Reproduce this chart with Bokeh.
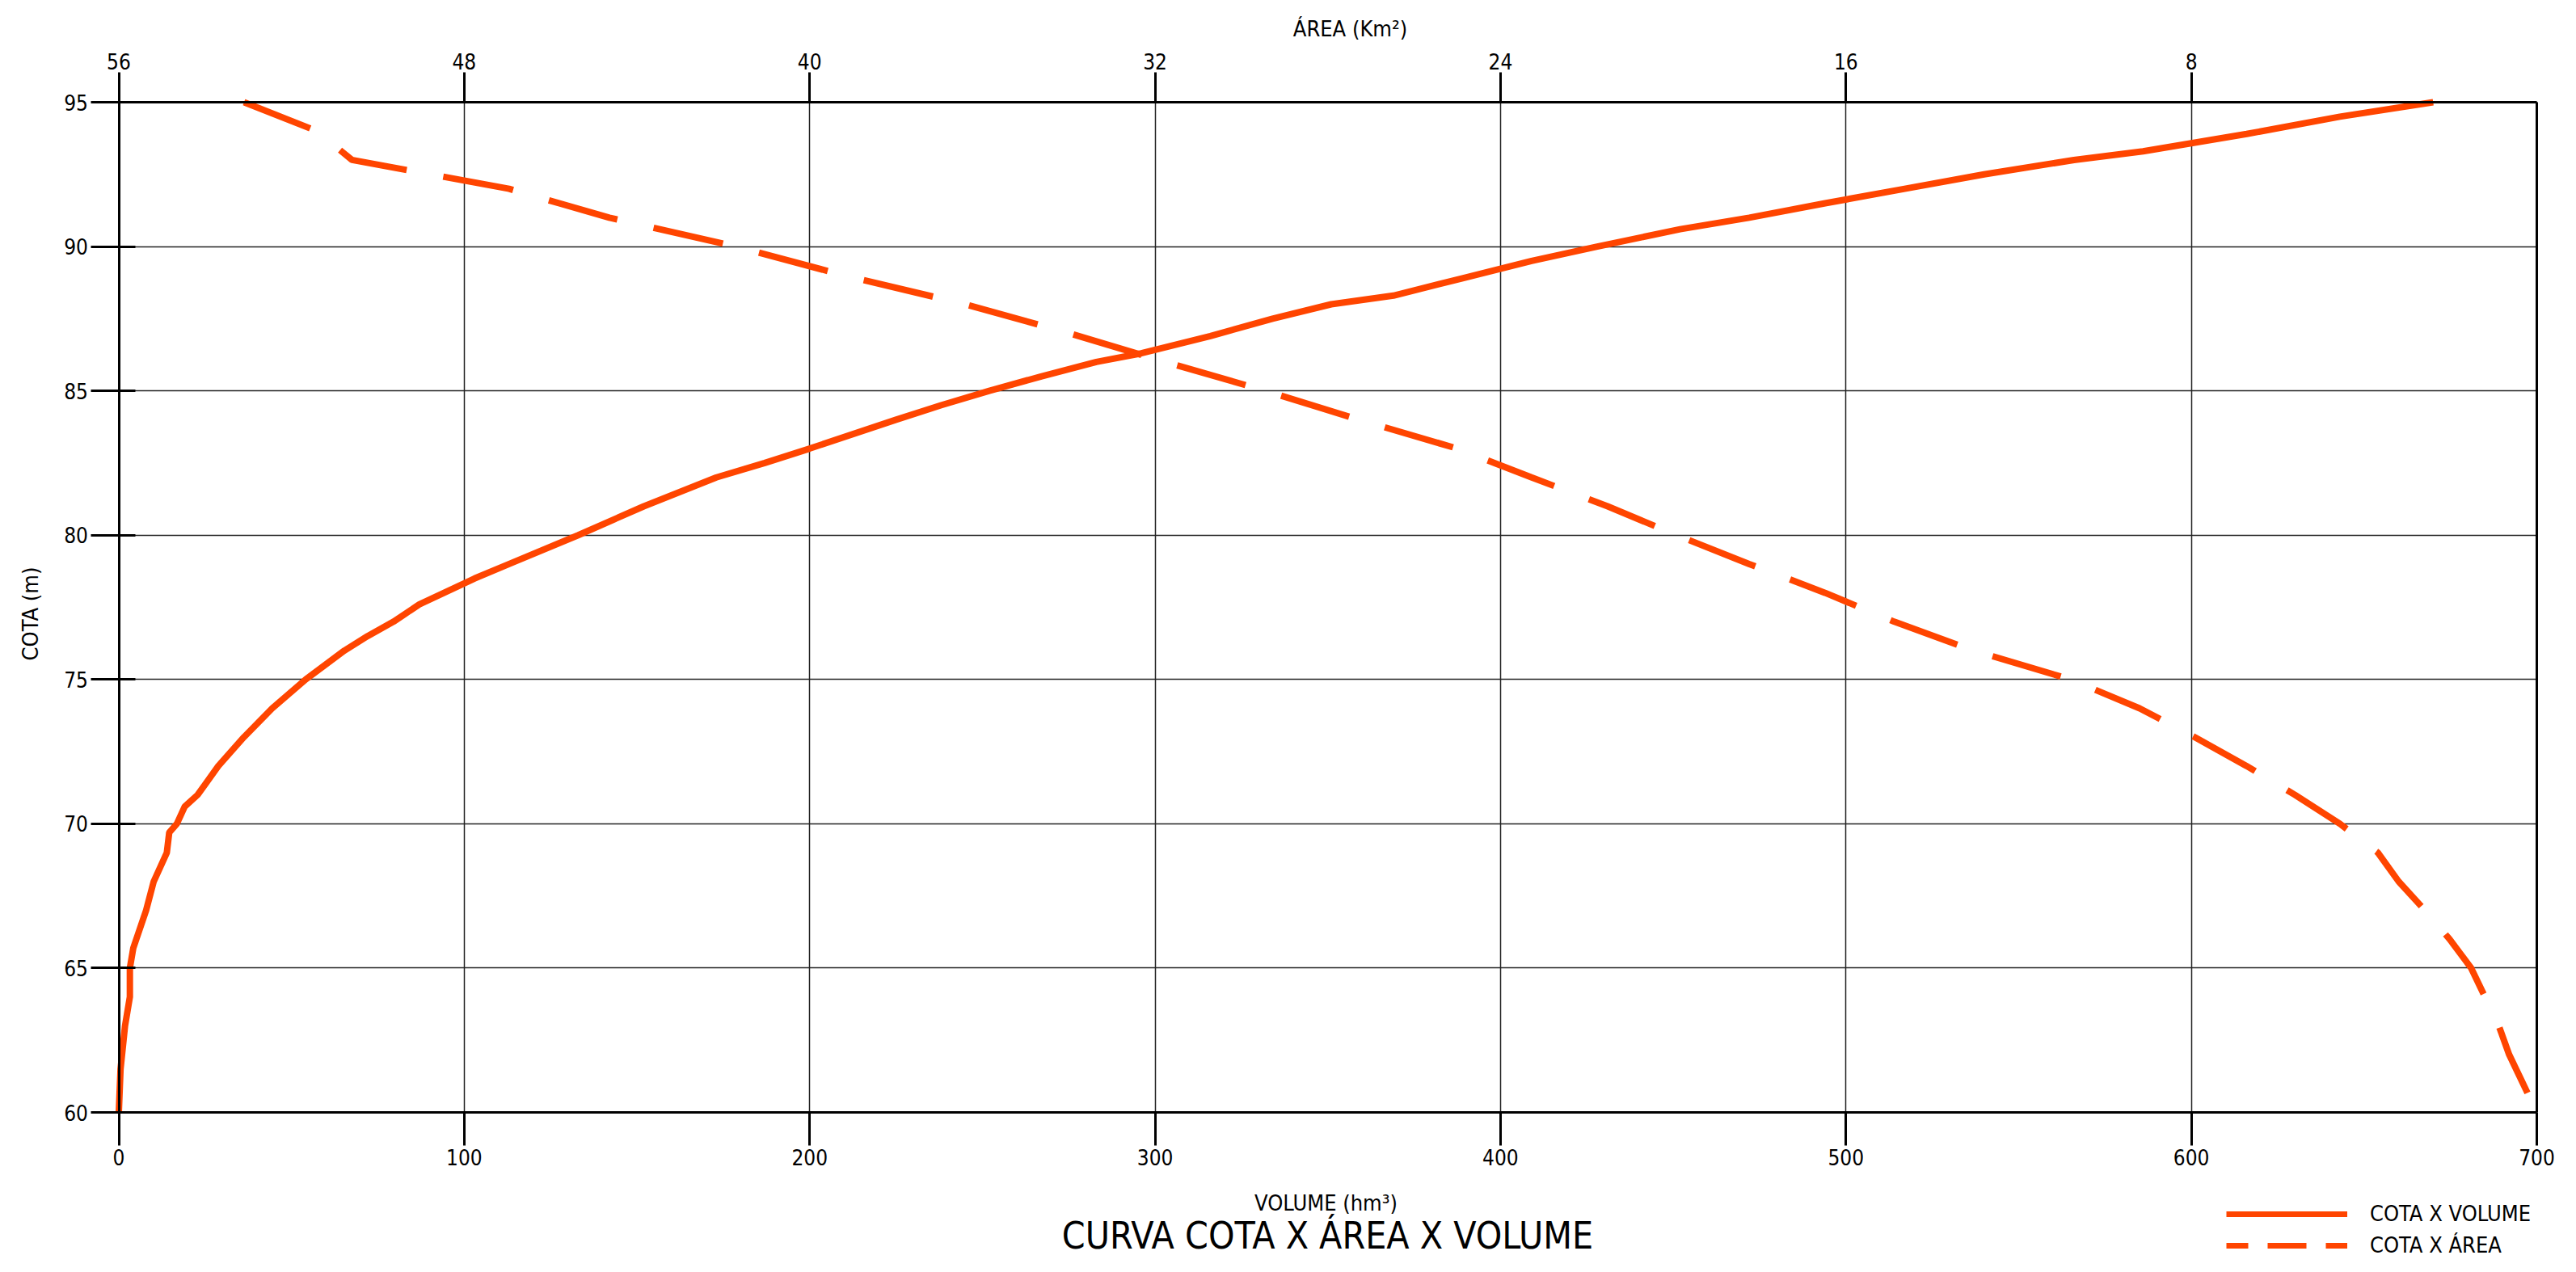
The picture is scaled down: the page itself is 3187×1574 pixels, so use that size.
import math
from bokeh.plotting import figure
from bokeh.models import Range1d, LinearAxis, FixedTicker, Legend, LegendItem, Label, Grid
from bokeh.embed import file_html
from bokeh.resources import INLINE

FONT = "Liberation Sans Narrow, DejaVu Sans Condensed, Liberation Sans"
ORANGE = "#ff4500"

# COTA x VOLUME
cota_vol = [60, 61.5, 63, 64, 65, 65.7, 67, 68, 69, 69.7, 70, 70.6, 71, 72, 73, 74, 75, 76, 76.5, 77,
            77.6, 78.5, 79, 80, 81, 82, 82.5, 83, 84, 84.5, 85, 85.5, 86, 86.3, 86.9, 87.5, 88, 88.3,
            88.9, 89.5, 90, 90.6, 91, 91.5, 92, 92.5, 93, 93.3, 93.9, 94.5, 95]
volume = [0, 0.5, 1.8, 3.2, 3.2, 4.2, 7.9, 10.1, 13.9, 14.6, 16.8, 19.1, 22.8, 28.8, 36.2, 44.4, 54.1,
          65.3, 72, 79.5, 87, 103, 113, 133, 152, 173, 187, 200, 225, 238, 252, 267, 283, 296, 316,
          334, 351, 369, 389, 409, 428, 452, 472, 494, 517, 540, 566, 586, 616, 643, 670]

# COTA x ÁREA
cota_area = [95, 94, 93, 92, 91, 90, 89, 88, 87, 86, 85, 84, 83, 82, 81, 80, 79, 78, 77, 76, 75, 74,
             73, 72, 71, 70, 69, 68, 67, 66, 65, 64, 63, 62, 61, 60]
area = [53.10, 51.41, 50.60, 46.96, 44.64, 41.71, 39.20, 36.40, 34.00, 31.76, 29.44, 27.28, 25.00,
        23.28, 21.52, 19.92, 18.24, 16.48, 14.88, 13.04, 10.80, 9.20, 7.92, 6.72, 5.60, 4.56, 3.68,
        3.20, 2.59, 2.02, 1.52, 1.20, 0.88, 0.64, 0.32, 0.00]

vol_ticks = [0, 100, 200, 300, 400, 500, 600, 700]
area_ticks = [56, 48, 40, 32, 24, 16, 8]
cota_ticks = [60, 65, 70, 75, 80, 85, 90, 95]
VOL_MIN, VOL_MAX = 0, 700
AREA_MAX, AREA_MIN = 56, 0
COTA_MIN, COTA_MAX = 60, 95

# ---- layout (figure pixels); the frame covers the whole canvas, axes are fixed ----
W, H = 3170, 1556
PL, PR, PT, PB = 146.5, 3138.0, 126.0, 1376.0    # plot box edges
px_x = (PR - PL) / (VOL_MAX - VOL_MIN)
px_y = (PB - PT) / (COTA_MAX - COTA_MIN)
x_start = VOL_MIN - PL / px_x
x_end = VOL_MAX + (W - PR) / px_x
y_end = COTA_MAX + PT / px_y
y_start = COTA_MIN - (H - PB) / px_y
a_per_v = (AREA_MAX - AREA_MIN) / (VOL_MAX - VOL_MIN)
a_start = AREA_MAX - (x_start - VOL_MIN) * a_per_v
a_end = AREA_MAX - (x_end - VOL_MIN) * a_per_v

p = figure(width=W, height=H, x_range=Range1d(x_start, x_end), y_range=Range1d(y_start, y_end),
           x_axis_location=None, y_axis_location=None,
           output_backend="svg", toolbar_location=None,
           min_border_left=0, min_border_right=0, min_border_top=0, min_border_bottom=0)
p.extra_x_ranges = {"area": Range1d(a_start, a_end)}
p.outline_line_color = None
p.background_fill_color = "white"
p.border_fill_color = "white"
# drop the default grids created by figure()
p.center = [r for r in p.center if not isinstance(r, Grid)]

GRID_COLOR = "#222222"
if "cross_bounds" in Grid.properties():
    p.add_layout(Grid(dimension=1, ticker=FixedTicker(ticks=cota_ticks), grid_line_color=GRID_COLOR,
                      grid_line_width=1.5, cross_bounds=(VOL_MIN, VOL_MAX)))
    p.add_layout(Grid(dimension=0, ticker=FixedTicker(ticks=vol_ticks), grid_line_color=GRID_COLOR,
                      grid_line_width=1.5, cross_bounds=(COTA_MIN, COTA_MAX)))
else:
    n = len(vol_ticks)
    p.segment(x0=vol_ticks, y0=[COTA_MIN] * n, x1=vol_ticks, y1=[COTA_MAX] * n,
              line_color=GRID_COLOR, line_width=1.5, level="underlay")
    m = len(cota_ticks)
    p.segment(x0=[VOL_MIN] * m, y0=cota_ticks, x1=[VOL_MAX] * m, y1=cota_ticks,
              line_color=GRID_COLOR, line_width=1.5, level="underlay")

bottom = LinearAxis(ticker=FixedTicker(ticks=vol_ticks), fixed_location=COTA_MIN,
                    bounds=(VOL_MIN, VOL_MAX))
left = LinearAxis(ticker=FixedTicker(ticks=cota_ticks), fixed_location=VOL_MIN,
                  bounds=(COTA_MIN, COTA_MAX))
top = LinearAxis(x_range_name="area", ticker=FixedTicker(ticks=area_ticks), fixed_location=COTA_MAX,
                 bounds=(AREA_MIN, AREA_MAX))
right = LinearAxis(ticker=FixedTicker(ticks=[]), fixed_location=VOL_MAX, bounds=(COTA_MIN, COTA_MAX))
p.add_layout(bottom, "below")
p.add_layout(left, "left")
p.add_layout(top, "above")
p.add_layout(right, "right")

for ax in [bottom, left, top, right]:
    ax.axis_line_color = "black"
    ax.axis_line_width = 3
    ax.major_tick_line_color = "black"
    ax.major_tick_line_width = 3
    ax.minor_tick_line_color = None
    ax.major_label_text_font = FONT
    ax.major_label_text_font_size = "26px"
    ax.major_label_text_color = "black"

bottom.major_tick_out = 41
bottom.major_tick_in = 0
bottom.major_label_standoff = 4

top.major_tick_out = 37
top.major_tick_in = 0
top.major_label_standoff = 4

left.major_tick_out = 35
left.major_tick_in = 20
left.major_label_standoff = 3

right.major_tick_out = 0
right.major_tick_in = 0


def label(text, x, y, size, angle=0.0):
    # x, y are figure pixels from the top-left corner
    return Label(x=x, y=H - y, x_units="screen", y_units="screen", text=text, angle=angle,
                 text_align="center", text_baseline="middle", text_font=FONT,
                 text_font_size=size, text_color="black")


p.add_layout(label("VOLUME (hm³)", 1640, 1488, "27px"))
p.add_layout(label("ÁREA (Km²)", 1670, 35, "27px"))
p.add_layout(label("COTA (m)", 37, 759, "27px", angle=math.pi / 2))
p.add_layout(label("CURVA COTA X ÁREA X VOLUME", 1642, 1528, "46px"))

p.line(volume, cota_vol, line_color=ORANGE, line_width=8)
p.line(area, cota_area, x_range_name="area", line_color=ORANGE, line_width=8, line_dash="88 46")

# legend proxies (kept outside the visible ranges)
r1 = p.line(x=[-1000, -999], y=[0, 0], line_color=ORANGE, line_width=7)
r2 = p.line(x=[-1000, -999], y=[0, 0], line_color=ORANGE, line_width=7, line_dash="48 24",
            line_dash_offset=21)
legend = Legend(items=[LegendItem(label="COTA X VOLUME", renderers=[r1]),
                       LegendItem(label="COTA X ÁREA", renderers=[r2])],
                location=(2754, 0), glyph_width=150, glyph_height=30, label_height=30,
                label_standoff=28, spacing=8, padding=0, margin=0,
                border_line_alpha=0, background_fill_alpha=0,
                label_text_font=FONT, label_text_font_size="27px", label_text_color="black")
p.add_layout(legend)

open("out.html", "w").write(file_html(p, INLINE))
